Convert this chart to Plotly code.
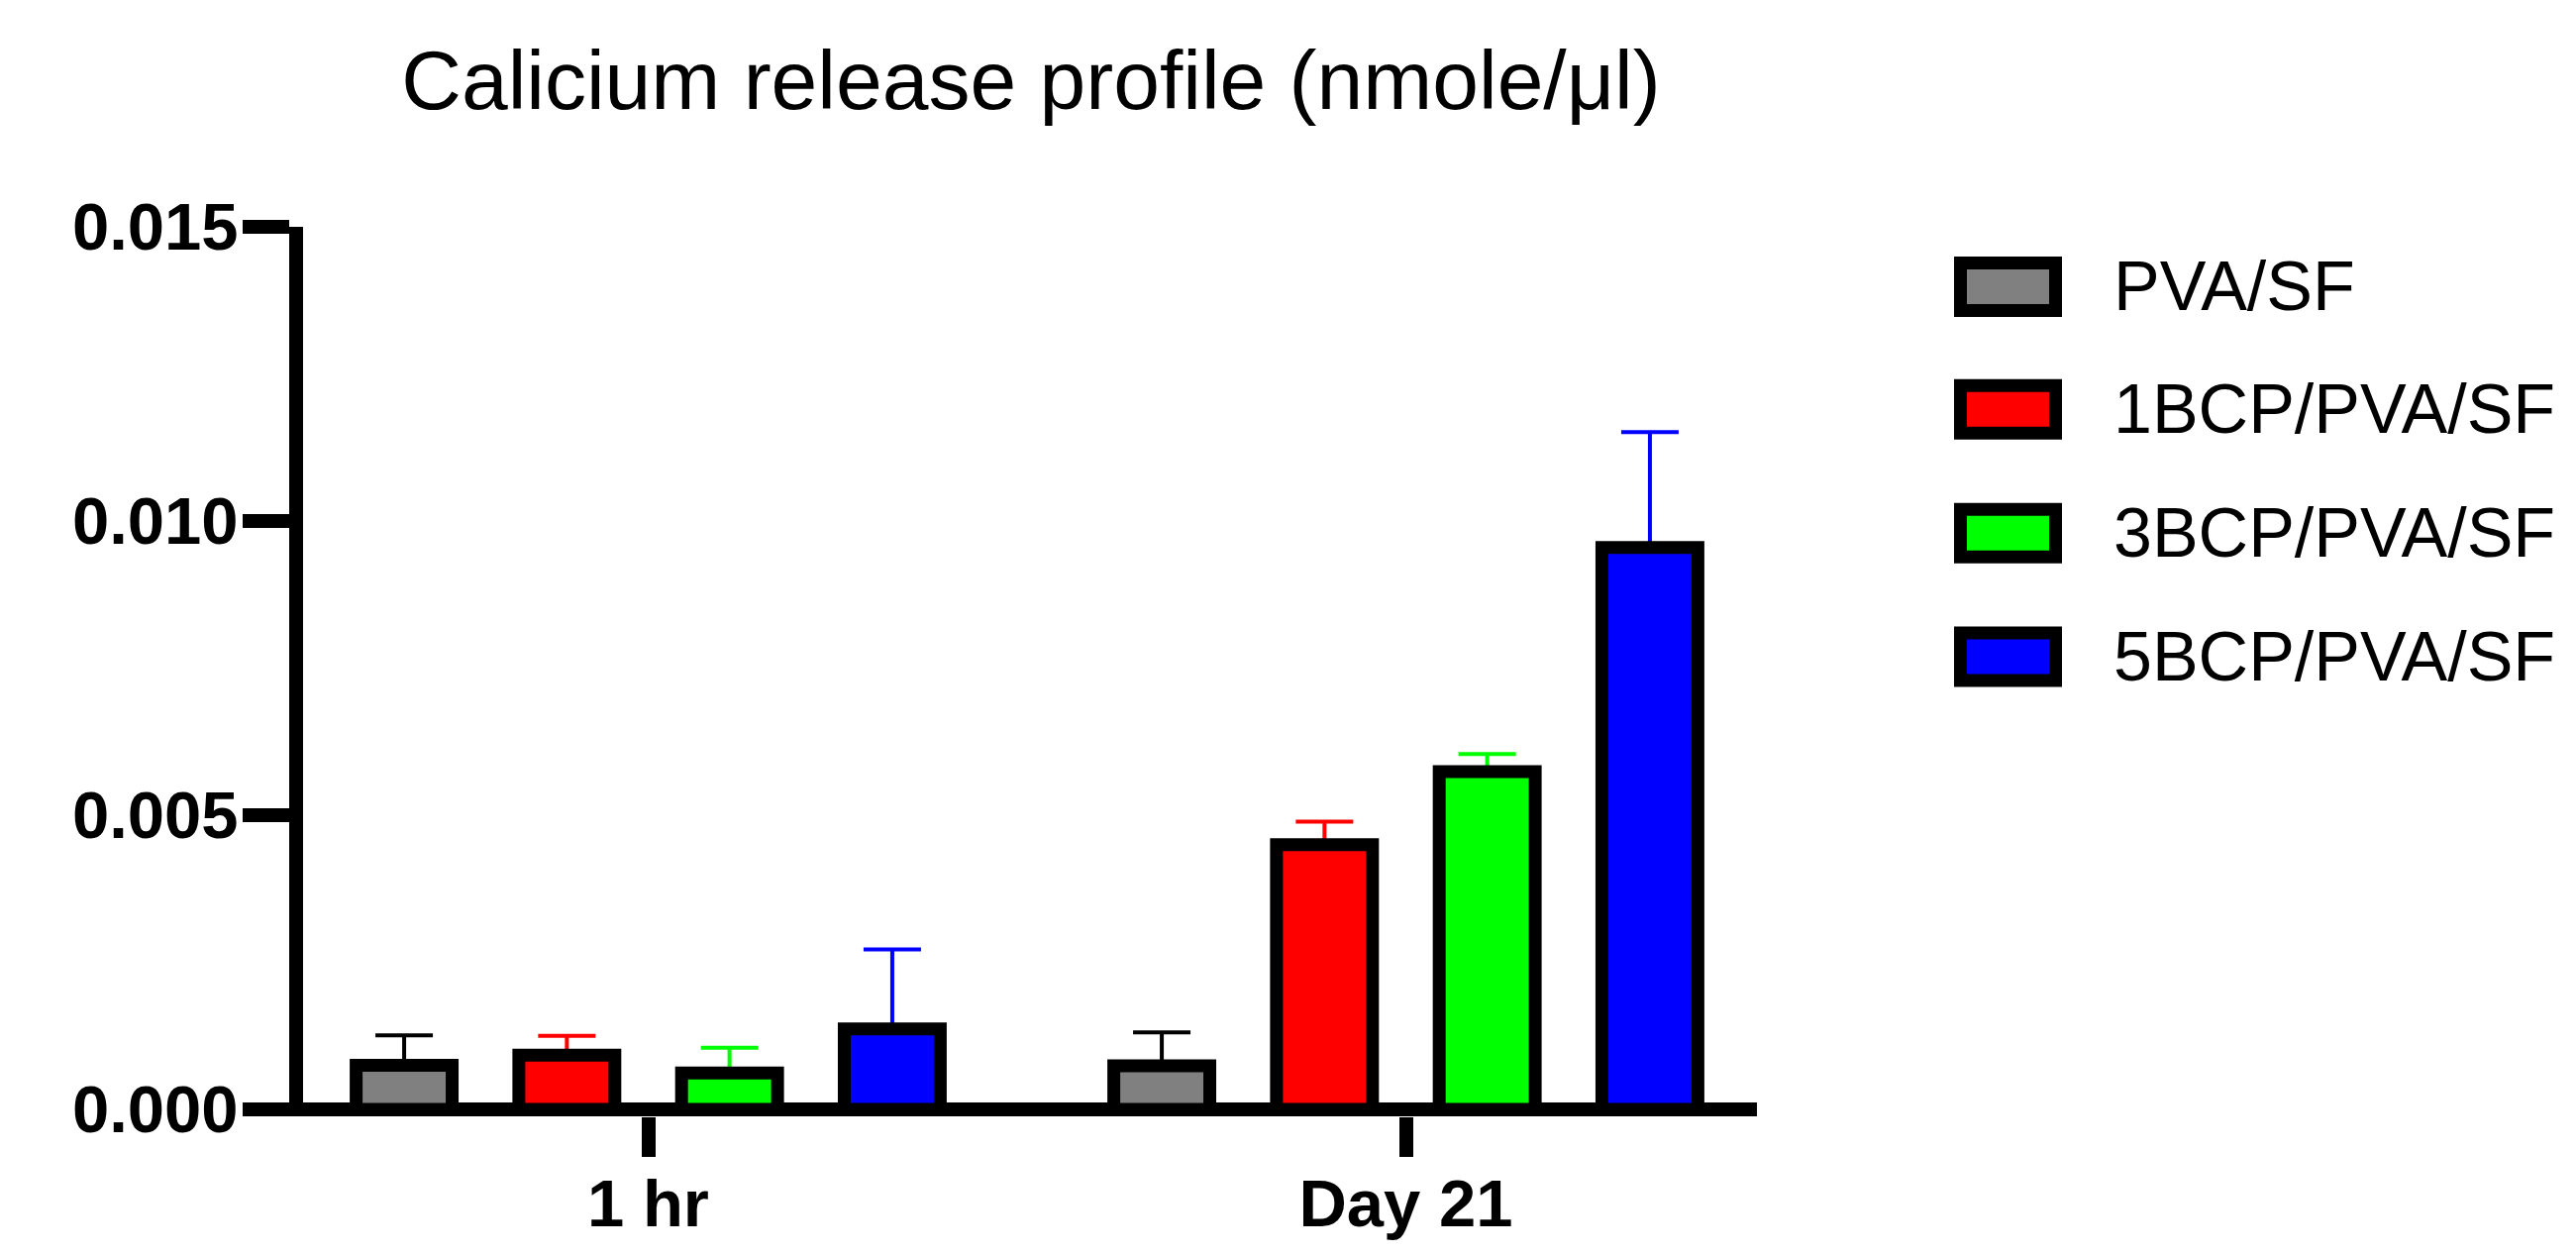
import plotly.graph_objects as go

# ---------------- data ----------------
categories = ["1 hr", "Day 21"]
series_names = ["PVA/SF", "1BCP/PVA/SF", "3BCP/PVA/SF", "5BCP/PVA/SF"]
pva_sf_mean = [0.00075, 0.00074]
pva_sf_sd = [0.00051, 0.00057]
bcp1_mean = [0.00092, 0.00450]
bcp1_sd = [0.00033, 0.00039]
bcp3_mean = [0.00062, 0.00574]
bcp3_sd = [0.00043, 0.00030]
bcp5_mean = [0.00137, 0.00955]
bcp5_sd = [0.00135, 0.00196]
y_tick_values = [0.0, 0.005, 0.010, 0.015]
title_text = "Calicium release profile (nmole/\u03bcl)"

means = [pva_sf_mean, bcp1_mean, bcp3_mean, bcp5_mean]
sds = [pva_sf_sd, bcp1_sd, bcp3_sd, bcp5_sd]

# ---------------- style ----------------
fill_colors = ["#808080", "#FF0000", "#00FF00", "#0000FF"]
err_colors = ["#000000", "#FF0000", "#00FF00", "#0000FF"]
FONT = "Arial, 'Liberation Sans', Helvetica, sans-serif"

W, H = 2601, 1266
AXIS_W = 14
# plot area in pixels (y-axis line is drawn just left of L)
L, R, T, B = 306, 1774, 228.5, 1127.5
Y_ZERO_PX = 1120.5          # pixel of y = 0 (centre of the x-axis line)
Y_TOP = 0.015
y_bottom = -(B - Y_ZERO_PX) / (Y_ZERO_PX - T) * Y_TOP

fig = go.Figure()
# error bars first (upper only), in transparent bars sharing the same slot,
# so that the visible bars drawn afterwards hide the lower cap
for i, (name, m, s, ec) in enumerate(zip(series_names, means, sds, err_colors)):
    fig.add_trace(go.Bar(
        x=categories, y=m, name=name + " SD", offsetgroup=str(i),
        marker=dict(color="rgba(0,0,0,0)", line=dict(width=0)),
        error_y=dict(type="data", array=s, arrayminus=[0] * len(s), symmetric=False,
                     color=ec, thickness=4, width=29),
        showlegend=False, hoverinfo="skip",
    ))
for i, (name, m, fc) in enumerate(zip(series_names, means, fill_colors)):
    fig.add_trace(go.Bar(
        x=categories, y=m, name=name, offsetgroup=str(i),
        marker=dict(color=fc, line=dict(color="black", width=13)),
        showlegend=False,
    ))

def px_to_paper_x(px):
    return (px - L) / (R - L)

def px_to_paper_y(py):
    return (B - py) / (B - T)

# custom legend (large boxes like the reference)
legend_centers_y = [289, 413, 538, 663]
box_x0, box_x1 = 1979.5, 2075.5
box_half_h = 24
text_x = 2132
for name, fc, cy in zip(series_names, fill_colors, legend_centers_y):
    fig.add_shape(type="rect", xref="paper", yref="paper",
                  x0=px_to_paper_x(box_x0), x1=px_to_paper_x(box_x1),
                  y0=px_to_paper_y(cy + box_half_h), y1=px_to_paper_y(cy - box_half_h),
                  fillcolor=fc, line=dict(color="black", width=13))
    fig.add_annotation(text=name, xref="paper", yref="paper",
                       x=px_to_paper_x(text_x), y=px_to_paper_y(cy),
                       xanchor="left", yanchor="middle", showarrow=False,
                       font=dict(family=FONT, size=70, color="black"))

CAT_PX = [654.5, 1419.5]
px_per_cat = CAT_PX[1] - CAT_PX[0]
cat_left = -(CAT_PX[0] - L) / px_per_cat
cat_right = 1 + (R - CAT_PX[1]) / px_per_cat

fig.update_layout(
    width=W, height=H,
    margin=dict(l=L, r=W - R, t=T, b=H - B, pad=0, autoexpand=False),
    paper_bgcolor="white", plot_bgcolor="white",
    barmode="group", bargap=0.141, bargroupgap=0.41,
    title=dict(text=title_text, xref="container", yref="container",
               x=1041 / W, y=1 - 81 / H, xanchor="center", yanchor="middle",
               font=dict(family=FONT, size=84, color="black")),
    xaxis=dict(type="category", range=[cat_left, cat_right], automargin=False,
               showline=False,
               ticks="outside", ticklen=40, tickwidth=14, tickcolor="black",
               tickfont=dict(family=FONT, size=67, color="black", weight="bold"),
               ticklabelstandoff=-10,
               showgrid=False, zeroline=False),
    yaxis=dict(range=[y_bottom, Y_TOP], tickvals=y_tick_values, tickformat=".3f",
               automargin=False,
               showline=True, linecolor="black", linewidth=AXIS_W,
               ticks="outside", ticklen=47, tickwidth=AXIS_W, tickcolor="black",
               tickfont=dict(family=FONT, size=67, color="black", weight="bold"),
               ticklabelstandoff=-9,
               zeroline=True, zerolinecolor="black", zerolinewidth=AXIS_W,
               showgrid=False),
)

fig.write_html("out.html", config={"displayModeBar": False},
               post_script="document.body.style.margin='0';")
